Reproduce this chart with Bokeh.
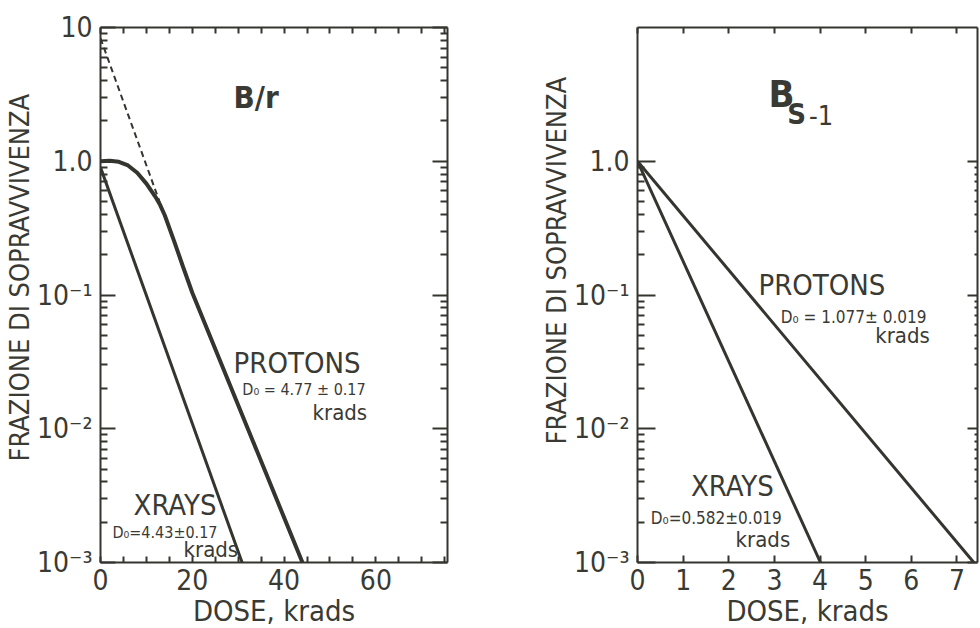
import math
from bokeh.plotting import figure
from bokeh.layouts import row
from bokeh.models import LinearAxis, LogAxis, FixedTicker, Label, Range1d, Title
from bokeh.embed import file_html
from bokeh.resources import INLINE

# ---------------- data ----------------
# Left panel: B/r cells
br_xray_dose = [0.0, 30.85]
br_xray_surv = [0.9, 0.001]
br_proton_dose = [0, 2, 4, 6, 8, 10, 12, 13, 14, 16, 18, 20, 44]
br_proton_surv = [1.0, 1.01, 0.99, 0.93, 0.82, 0.68, 0.54, 0.47, 0.395, 0.255, 0.162, 0.104, 0.001]
br_extrap_dose = [0, 15.5]
br_extrap_surv = [8.3, 0.28]

# Right panel: Bs-1 cells
bs_xray_dose = [0.0, 4.01]
bs_xray_surv = [1.0, 0.001]
bs_proton_dose = [0.0, 7.37]
bs_proton_surv = [1.0, 0.001]

# tick positions / labels
left_x_labels = [0, 20, 40, 60]
left_x_minor = [5, 10, 15, 25, 30, 35, 45, 50, 55, 65, 70, 75]
left_x_all = [0, 5, 10, 15, 20, 25, 30, 35, 40, 45, 50, 55, 60, 65, 70, 75]
right_x_labels = [0, 1, 2, 3, 4, 5, 6, 7]
decades_left = [0.001, 0.01, 0.1, 1.0, 10.0]
decades_right = [0.001, 0.01, 0.1, 1.0]
decade_labels = {0.001: "10\u207b\u00b3", 0.01: "10\u207b\u00b2", 0.1: "10\u207b\u00b9", 1.0: "1.0", 10.0: "10"}
minor_left = [m * d for d in [0.001, 0.01, 0.1, 1.0] for m in range(2, 10)]
minor_right = [m * d for d in [0.001, 0.01, 0.1] for m in range(2, 10)]

FONT = "DejaVu Sans Condensed, Roboto Condensed, Liberation Sans Narrow, Roboto, sans-serif"
INK = "#35352f"
TXT = "#3a3a34"
YTITLE = "FRAZIONE DI SOPRAVVIVENZA"


def style_axis(ax, tin, mtin, width=2):
    ax.axis_line_color = INK
    ax.axis_line_width = width
    ax.major_tick_line_color = INK
    ax.minor_tick_line_color = INK
    ax.major_tick_line_width = 2
    ax.minor_tick_line_width = 2
    ax.major_tick_in = tin
    ax.major_tick_out = 0
    ax.minor_tick_in = mtin
    ax.minor_tick_out = 0
    ax.major_label_text_font = FONT
    ax.major_label_text_font_size = "28px"
    ax.major_label_text_color = TXT
    ax.axis_label_text_font = FONT
    ax.axis_label_text_font_style = "normal"
    ax.axis_label_text_font_size = "29px"
    ax.axis_label_text_color = TXT


def make_fig(xmax, fw, bl, br, xticks, xminor, xtop, yt, yminor, xtick_len, ytick_len, ymtick_len,
             rtick_len, rmtick_len, title_offset):
    p = figure(frame_width=fw, frame_height=535, x_range=Range1d(0, xmax), y_range=Range1d(1e-3, 10),
               y_axis_type="log", output_backend="svg", toolbar_location=None,
               min_border_left=bl, min_border_right=br, min_border_top=27, min_border_bottom=66)
    p.outline_line_color = None
    for g in p.grid:
        g.visible = False
    p.background_fill_color = "white"
    p.border_fill_color = "white"

    xb = p.xaxis[0]
    xb.ticker = FixedTicker(ticks=xticks, minor_ticks=xminor)
    style_axis(xb, xtick_len, xtick_len)
    xb.major_label_standoff = 6
    xb.axis_label = "DOSE, krads"
    xb.axis_label_standoff = 1

    yl = p.yaxis[0]
    yl.ticker = FixedTicker(ticks=yt, minor_ticks=yminor)
    style_axis(yl, ytick_len, ymtick_len)
    yl.major_label_overrides = {k: decade_labels[k] for k in yt}
    yl.major_label_standoff = 8

    xa = LinearAxis(ticker=FixedTicker(ticks=xtop), major_label_overrides={t: "" for t in xtop})
    style_axis(xa, 6, 6)
    p.add_layout(xa, "above")

    yr = LogAxis(ticker=FixedTicker(ticks=yt, minor_ticks=yminor), major_label_overrides={k: "" for k in yt})
    style_axis(yr, rtick_len, rmtick_len)
    p.add_layout(yr, "right")

    t = Title(text=YTITLE, align="left", offset=title_offset, text_font=FONT, text_font_size="27px",
              text_font_style="normal", text_color=TXT, standoff=0)
    p.add_layout(t, "left")
    return p


def lab(p, x, y, text, size, bold=False, **kw):
    p.add_layout(Label(x=x, y=y, text=text, text_font=FONT, text_font_size=f"{size}px",
                       text_font_style="bold" if bold else "normal", text_color=TXT,
                       text_baseline="middle", **kw))


# ---------------- left panel ----------------
p1 = make_fig(75.6, 347, 100, 60, left_x_labels, left_x_minor, left_x_all,
              decades_left, minor_left, 6, 15, 7, 15, 7, 101)
p1.line(br_extrap_dose, br_extrap_surv, line_color=INK, line_width=2, line_dash="6 4")
p1.line(br_xray_dose, br_xray_surv, line_color=INK, line_width=3)
p1.line(br_proton_dose, br_proton_surv, line_color=INK, line_width=4)

lab(p1, 29.0, 3.02, "B/r", 31, bold=True)
lab(p1, 29.0, 0.0310, "PROTONS", 29)
lab(p1, 30.9, 0.0195, "D\u2080 = 4.77 \u00b1 0.17", 16)
lab(p1, 46.2, 0.0132, "krads", 22)
lab(p1, 7.2, 0.00267, "XRAYS", 29)
lab(p1, 2.6, 0.00169, "D\u2080=4.43\u00b10.17", 16)
lab(p1, 18.1, 0.00125, "krads", 22)

# ---------------- right panel ----------------
p2 = make_fig(7.45, 340, 130, 3, right_x_labels, [], right_x_labels,
              decades_right, minor_right, 7, 18, 7, 10, 3, 118)
p2.line(bs_xray_dose, bs_xray_surv, line_color=INK, line_width=3)
p2.line(bs_proton_dose, bs_proton_surv, line_color=INK, line_width=3)

lab(p2, 2.87, 3.16, "B", 38, bold=True)
lab(p2, 3.28, 2.26, "S", 29, bold=True)
lab(p2, 3.76, 2.20, "-1", 27)
lab(p2, 2.65, 0.1178, "PROTONS", 29)
lab(p2, 3.14, 0.0685, "D\u2080 = 1.077\u00b1 0.019", 17)
lab(p2, 5.21, 0.0498, "krads", 22)
lab(p2, 1.17, 0.00373, "XRAYS", 29)
lab(p2, 0.29, 0.00215, "D\u2080=0.582\u00b10.019", 17)
lab(p2, 2.15, 0.00149, "krads", 22)

layout = row(p1, p2)
open("out.html", "w").write(file_html(layout, INLINE))
